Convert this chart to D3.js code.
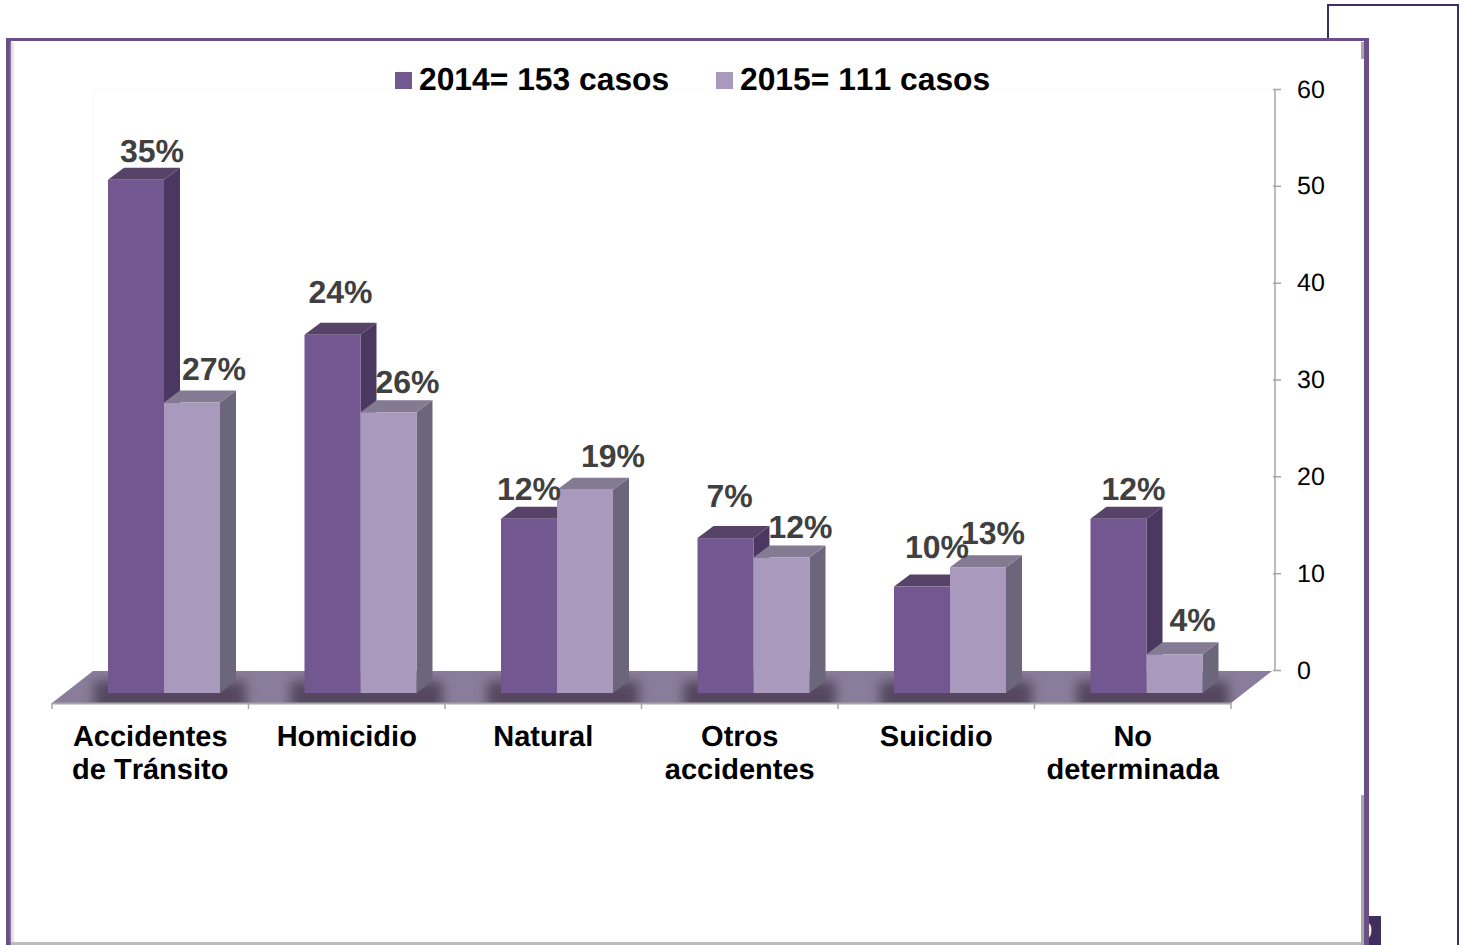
<!DOCTYPE html>
<html>
<head>
    <meta charset="utf-8">
    <script src="https://d3js.org/d3.v7.min.js"></script>
    <style>
        html, body { margin: 0; padding: 0; background: #fff; overflow: hidden; }
        text { font-family: "Liberation Sans", Arial, sans-serif; font-kerning: none; text-rendering: geometricPrecision; }
    </style>
</head>
<body>
<div id="svgcontainer"></div>
<script>
    // values
    var categories = [["Accidentes", "de Tránsito"], ["Homicidio"], ["Natural"], ["Otros", "accidentes"], ["Suicidio"], ["No", "determinada"]];
    var series = ["2014= 153 casos", "2015= 111 casos"];
    var values2014 = [50, 34, 15, 13, 8, 15];
    var values2015 = [27, 26, 18, 11, 10, 1];
    var labels2014 = ["35%", "24%", "12%", "7%", "10%", "12%"];
    var labels2015 = ["27%", "26%", "19%", "12%", "13%", "4%"];
    var yTicks = [0, 10, 20, 30, 40, 50, 60];

    var width = 1463;
    var height = 945;

    var colors = [
        { front: "#735790", side: "#4b3860", top: "#574268" },
        { front: "#a99abd", side: "#6c667a", top: "#847a92" }
    ];

    // the labels were placed by hand in the original, so each one gets a nudge
    var nudge2014 = [[16, -6], [8, -20], [0, -7], [4, -19], [15, -17], [15, -7]];
    var nudge2015 = [[22, -11], [19, -7], [28, -11], [19, -7], [15, -11], [18, -11]];

    var svg = d3.select("#svgcontainer")
        .append("svg")
        .attr("width", width)
        .attr("height", height);

    var defs = svg.append("defs");
    defs.append("filter").attr("id", "blur")
        .attr("x", "-30%").attr("width", "160%")
        .attr("y", "-50%").attr("height", "200%")
        .append("feGaussianBlur").attr("stdDeviation", 6);
    defs.append("filter").attr("id", "soft")
        .attr("x", "-200%").attr("width", "500%")
        .attr("y", "-20%").attr("height", "140%")
        .append("feGaussianBlur").attr("stdDeviation", 1);

    // scales
    var x = d3.scaleBand().domain(d3.range(categories.length)).range([52, 1231]);
    var xSub = d3.scaleBand().domain([0, 1]).range([56, 168]);
    var y = d3.scaleLinear().domain([0, 60]).range([670, 89]);

    var depthX = 16;
    var depthY = 12;
    var frontLift = 6;   // bar fronts sit a little above the axis on the back wall
    var baseY = 693;
    var floorFront = 703;
    var floorBack = 671;
    var floorSkew = 41;

    function frontY(v) { return y(v) - frontLift; }

    // page frames behind and around the chart
    svg.append("rect").attr("x", 1328).attr("y", 5)
        .attr("width", 130).attr("height", 960)
        .attr("fill", "#fff").attr("stroke", "#3f2f5c").attr("stroke-width", 2);
    svg.append("rect").attr("x", 1369).attr("y", 916)
        .attr("width", 12).attr("height", 29).attr("fill", "#3f2f5c");
    svg.append("clipPath").attr("id", "pageNo").append("rect")
        .attr("x", 1369).attr("y", 916).attr("width", 12).attr("height", 29);
    svg.append("text").attr("x", 1360).attr("y", 938)
        .attr("clip-path", "url(#pageNo)")
        .attr("font-size", 22).attr("fill", "#fff").text("9");

    svg.append("rect").attr("x", 6).attr("y", 38)
        .attr("width", 1363).attr("height", 930).attr("fill", "#6a4f88");
    svg.append("rect").attr("x", 11).attr("y", 41)
        .attr("width", 1353).attr("height", 904).attr("fill", "#fff");

    // inner shadows of the frame
    svg.append("rect").attr("x", 11).attr("y", 42).attr("width", 2).attr("height", 902)
        .attr("fill", "#c8c8cc").attr("filter", "url(#soft)");
    svg.append("rect").attr("x", 11).attr("y", 942).attr("width", 1352).attr("height", 3)
        .attr("fill", "#bdbdbd");
    svg.append("rect").attr("x", 1361).attr("y", 795).attr("width", 3).attr("height", 150)
        .attr("fill", "#a8a8a8");
    svg.append("rect").attr("x", 1361).attr("y", 42).attr("width", 3).attr("height", 17)
        .attr("fill", "#a8a8a8");

    // faint back wall
    svg.append("path")
        .attr("d", d3.line()([[x.range()[0] + floorSkew, floorBack], [x.range()[0] + floorSkew, y(60)], [x.range()[1] + floorSkew + 3, y(60)]]))
        .attr("fill", "none").attr("stroke", "#f8f8f8");

    // floor
    var floorPts = [
        [x.range()[0], floorFront], [x.range()[0] + floorSkew, floorBack],
        [x.range()[1] + floorSkew, floorBack], [x.range()[1], floorFront]
    ];
    svg.append("clipPath").attr("id", "floorClip").append("polygon").attr("points", floorPts.join(" "));
    svg.append("polygon").attr("points", floorPts.join(" ")).attr("fill", "#8a7d9b");
    svg.append("g").attr("clip-path", "url(#floorClip)")
        .append("g").attr("filter", "url(#blur)")
        .selectAll("rect").data(categories).join("rect")
        .attr("x", (d, i) => x(i) + xSub(0) - 14)
        .attr("y", floorBack + 10)
        .attr("width", xSub.bandwidth() * 2 + depthX + 24)
        .attr("height", 30)
        .attr("fill", "#54475f");

    // baseline with ticks on the category edges
    svg.append("line")
        .attr("x1", x.range()[0]).attr("x2", x.range()[1])
        .attr("y1", floorFront + 0.5).attr("y2", floorFront + 0.5)
        .attr("stroke", "#a6a6a6").attr("stroke-width", 2);
    svg.append("g").selectAll("line").data(d3.range(categories.length + 1)).join("line")
        .attr("x1", d => x.range()[0] + d * x.step())
        .attr("x2", d => x.range()[0] + d * x.step())
        .attr("y1", floorFront).attr("y2", floorFront + 6)
        .attr("stroke", "#a6a6a6").attr("stroke-width", 1.5);

    // value axis
    var yAxis = svg.append("g")
        .attr("transform", "translate(1275,0)")
        .call(d3.axisRight(y).tickValues(yTicks).tickSize(6).tickPadding(16));
    yAxis.selectAll("path, line").attr("stroke", "#a6a6a6").attr("stroke-width", 1.5);
    yAxis.select(".domain").attr("d", "M0," + y(60) + "V" + y(0));
    yAxis.selectAll("line").attr("x1", -2);
    yAxis.selectAll("text").attr("font-size", 25).attr("font-family", "Liberation Sans").attr("fill", "#000");

    // category labels
    var xAxis = svg.append("g")
        .attr("transform", "translate(0," + floorFront + ")")
        .call(d3.axisBottom(x).tickSize(0));
    xAxis.select(".domain").remove();
    xAxis.selectAll("text").each(function (i) {
        var t = d3.select(this).text(null)
            .attr("y", null).attr("dy", null)
            .attr("font-size", 29).attr("font-weight", "bold")
            .attr("font-family", "Liberation Sans").attr("fill", "#000");
        categories[i].forEach(function (line, k) {
            t.append("tspan").attr("x", 0).attr("y", 43 + k * 33).text(line);
        });
    });

    // bars, 2014 first so that the 2015 bars sit on top of its side face
    function drawBars(values, s) {
        var g = svg.append("g").attr("class", "series" + s);
        var c = colors[s];
        var left = i => x(i) + xSub(s);
        var right = i => left(i) + xSub.bandwidth();

        g.selectAll(".side").data(values).join("polygon")
            .attr("points", (d, i) => [
                [right(i), frontY(d)], [right(i) + depthX, frontY(d) - depthY],
                [right(i) + depthX, baseY - depthY], [right(i), baseY]
            ].join(" "))
            .attr("fill", c.side);
        g.selectAll(".top").data(values).join("polygon")
            .attr("points", (d, i) => [
                [left(i), frontY(d)], [left(i) + depthX, frontY(d) - depthY],
                [right(i) + depthX, frontY(d) - depthY], [right(i), frontY(d)]
            ].join(" "))
            .attr("fill", c.top);
        g.selectAll(".front").data(values).join("rect")
            .attr("x", (d, i) => left(i))
            .attr("y", d => frontY(d))
            .attr("width", xSub.bandwidth())
            .attr("height", d => baseY - frontY(d))
            .attr("fill", c.front);
    }
    drawBars(values2014, 0);
    drawBars(values2015, 1);

    // data labels
    function drawLabels(values, labels, nudges, s) {
        svg.append("g").selectAll("text").data(values).join("text")
            .attr("x", (d, i) => x(i) + xSub(s) + xSub.bandwidth() / 2 + nudges[i][0])
            .attr("y", (d, i) => frontY(d) - depthY + nudges[i][1])
            .attr("text-anchor", "middle")
            .attr("font-size", 32).attr("font-weight", "bold")
            .attr("fill", "#404040")
            .text((d, i) => labels[i]);
    }
    drawLabels(values2014, labels2014, nudge2014, 0);
    drawLabels(values2015, labels2015, nudge2015, 1);

    // legend
    var legend = svg.append("g").selectAll("g").data(series).join("g")
        .attr("transform", (d, i) => "translate(" + (395 + i * 321) + ",72)");
    legend.append("rect")
        .attr("width", 17).attr("height", 17)
        .attr("fill", (d, i) => colors[i].front);
    legend.append("text")
        .attr("x", 24).attr("y", 18)
        .attr("font-size", 31.8).attr("font-weight", "bold").attr("fill", "#000")
        .text(d => d);
</script>
</body>
</html>
